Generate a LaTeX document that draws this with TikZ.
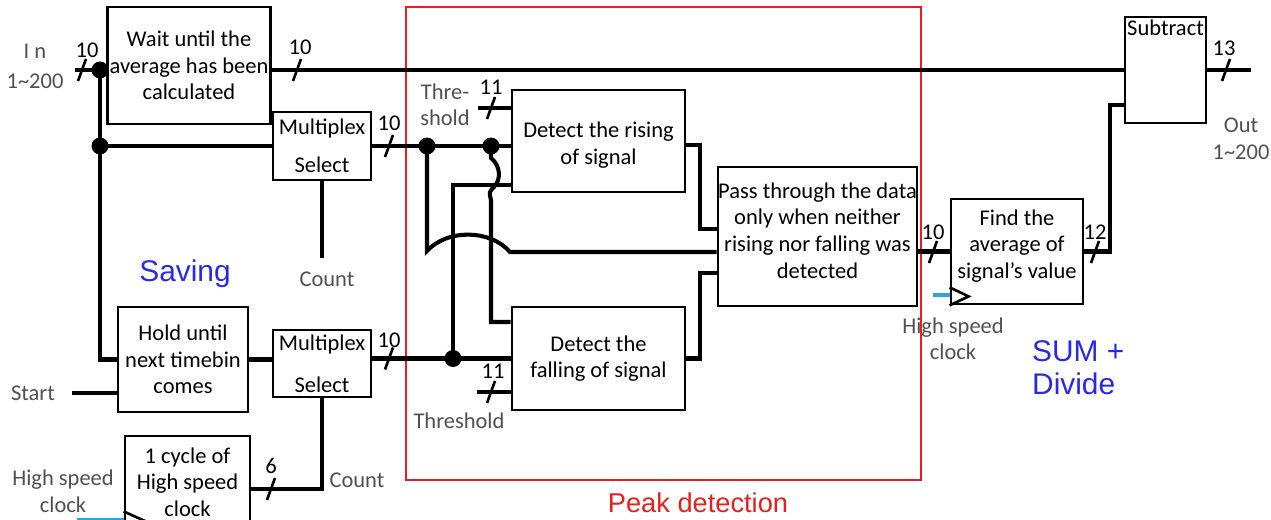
\documentclass[tikz,border=0pt]{standalone}
\usepackage{fontspec}
\setmainfont{Carlito}
\newfontfamily\headfont{Liberation Sans}
\usepackage{tikz}
\usetikzlibrary{calc}
\usepackage{xcolor}
\definecolor{labelgray}{RGB}{80,80,80}
\definecolor{tagblue}{RGB}{40,40,235}
\definecolor{peakred}{RGB}{235,30,30}
\definecolor{clockcyan}{RGB}{30,170,230}
\newcommand{\boxfont}{\fontsize{12.8}{15.1}\selectfont}

\begin{document}
\begin{tikzpicture}[x=0.02cm,y=-0.02cm,
  blk/.style={draw,line width=1.6pt,align=center,inner sep=1pt,font=\boxfont},
  blktext/.style={align=center,inner sep=1pt,font=\boxfont},
  lbl/.style={text=labelgray,align=center,font=\boxfont},
  buslbl/.style={font=\boxfont},
  wire/.style={line width=2.3pt},
  busslash/.style={line width=1.5pt},
  clkwire/.style={line width=2pt,draw=clockcyan},
  tag/.style={font=\headfont\fontsize{17}{20}\selectfont},
]
\useasboundingbox (0,0) rectangle (1271,520);
\clip (0,0) rectangle (1271,520);

% Blocks
\node[blk,minimum width=3.24cm,minimum height=2.34cm] (wait) at (189,65.5)
  {Wait until the\\average has been\\calculated};
\node[blk,minimum width=1.96cm,minimum height=1.36cm] (muxa) at (322,146)
  {Multiplex\\[6.5pt]Select};
\node[blk,minimum width=1.96cm,minimum height=1.34cm] (muxb) at (322,363.5)
  {Multiplex\\[9pt]Select};
\node[blk,minimum width=2.6cm,minimum height=2.1cm] (hold) at (183,359.5)
  {Hold until\\next timebin\\comes};
\node[blk,minimum width=2.5cm,minimum height=1.84cm] (cyc) at (187.5,482)
  {1 cycle of\\High speed\\clock};
\node[blk,minimum width=3.46cm,minimum height=2.04cm] (rise) at (598.5,141) {};
\node[blktext] (riset) at (598.5,145) {Detect the rising\\of signal};
\node[blk,minimum width=3.46cm,minimum height=2.06cm] (fall) at (598.5,358.5)
  {Detect the\\falling of signal};
\node[blk,minimum width=3.98cm,minimum height=2.78cm] (pass) at (817.5,236.5) {};
\node[blktext] (passt) at (817.5,230.5)
  {Pass through the data\\only when neither\\rising nor falling was\\detected};
\node[blk,minimum width=2.64cm,minimum height=2.1cm] (avg) at (1017,251.5) {};
\node[blktext] (avgt) at (1017,246) {Find the\\average of\\signal’s value};
\node[blk,minimum width=1.62cm,minimum height=2.12cm] (sub) at (1165.5,70) {};
\node[font=\boxfont,anchor=north,inner sep=2pt] (subt) at (sub.north) {Subtract};

% Peak detection frame
\draw[peakred,line width=0.8pt] (406,7) rectangle (921,480);

% Wire points
\coordinate (inL) at (75,70);
\coordinate (j1) at (100,70);
\coordinate (j2) at (100,146);
\coordinate (j3) at (427,146);
\coordinate (j4) at (491,146);
\coordinate (j5) at (453,358.5);
\coordinate (cntA) at (322,258);
\coordinate (thA) at (478,108);
\coordinate (thB) at (477,392);
\coordinate (st) at (72,393);
\coordinate (hopA) at (427,251);
\coordinate (hopB) at (510,252);
\coordinate (wigA) at (491,158);
\coordinate (wigB) at (491,200);
\coordinate (fallIn) at (491,322);
\coordinate (riseIn) at (453,185);
\coordinate (riseOut) at (700,229);
\coordinate (fallOut) at (700,273);
\coordinate (avgOut) at (1110,105);
\coordinate (outR) at (1251,70);
\coordinate (cycOut) at (250,489);
\coordinate (clkA) at (933,295);
\coordinate (clkB) at (77,520);

% Wires
\draw[wire] (inL) -- (wait.west |- inL);
\draw[wire] (wait.east |- inL) -- (sub.west |- inL);
\draw[wire] (j1) |- (hold.west);
\draw[wire] (j2) -- (muxa.west);
\draw[wire] (muxa.south) -- (cntA);
\draw[wire] (muxa.east) -- (rise.west |- muxa.east);
\draw[wire] (thA) -- (rise.west |- thA);
\draw[wire] (hold.east) -- (muxb.west |- hold.east);
\draw[wire] (st) -- (hold.west |- st);
\draw[wire] (muxb.east |- fall.west) -- (fall.west);
\draw[wire] (thB) -- (fall.west |- thB);
\draw[wire] (cycOut) -| (muxb.south);
\draw[wire] (j3) -- (hopA) .. controls (447,229) and (490,229) .. (hopB)
  -- (pass.west |- hopB);
\draw[wire] (j4) -- (wigA) .. controls (501,166) and (501,180) .. (494,187)
  .. controls (489,192) .. (wigB) -- (fallIn) -- (fall.west |- fallIn);
\draw[wire] (j5) |- (rise.west |- riseIn);
\draw[wire] ($(rise.east)+(0,4)$) -| (riseOut) -- (pass.west |- riseOut);
\draw[wire] (fall.east) -| (fallOut) -- (pass.west |- fallOut);
\draw[wire] (pass.east |- avg.west) -- (avg.west);
\draw[wire] (avg.east) -| (avgOut) -- (sub.west |- avgOut);
\draw[wire] (sub.east) -- (outR);

% Junction dots
\foreach \j in {j1,j2,j3,j4,j5}
  \fill (\j) circle (0.17cm);

% Clock inputs
\draw[line width=1.5pt] ($(avg.south west)+(0,-18)$) -- ++(19,9) -- ++(-19,9);
\draw[clkwire] (clkA) -- (avg.west |- clkA);
\draw[line width=1.5pt] ($(cyc.south west)+(0,-18)$) -- ++(20,9) -- ++(-20,9);
\draw[clkwire] (clkB) -- (cyc.west |- clkB);

% Bus width marks
\foreach \sx/\sy in {82/70, 297/70, 389/146, 491/108, 389/358.5,
                     491/392, 271/489, 933/252, 1095/252, 1226/70}
  \draw[busslash] (\sx-4,\sy+11) -- (\sx+4,\sy-11);
\node[buslbl] (bw1) at (87,50) {10};
\node[buslbl] (bw2) at (300,47) {10};
\node[buslbl] (bw3) at (389,123) {10};
\node[buslbl] (bw4) at (491,87) {11};
\node[buslbl] (bw5) at (389,340) {10};
\node[buslbl] (bw6) at (493,371) {11};
\node[buslbl] (bw7) at (271,466) {6};
\node[buslbl] (bw8) at (933,232) {10};
\node[buslbl] (bw9) at (1095,232) {12};
\node[buslbl] (bw10) at (1224,48) {13};

% Signal labels
\node[lbl] (inlbl) at (35,66) {I n\\[2pt]1\textasciitilde200};
\node[lbl] (cnt1) at (327,279) {Count};
\node[lbl] (cnt2) at (357,480) {Count};
\node[lbl] (startlbl) at (33,393) {Start};
\node[lbl] (thrA) at (445,105) {Thre-\\shold};
\node[lbl] (thrB) at (459,421) {Threshold};
\node[lbl] (clkl1) at (63,491.5) {High speed\\clock};
\node[lbl] (clkl2) at (953,339) {High speed\\clock};
\node[lbl] (outlbl) at (1241,139) {Out\\1\textasciitilde200};

% Section tags
\node[tag,text=tagblue] (saving) at (185,274) {Saving};
\node[tag,text=tagblue,align=left,anchor=west] (sumdiv) at (1026,368)
  {SUM +\\[-1pt]Divide};
\node[tag,text=peakred,font=\headfont\fontsize{15.5}{18}\selectfont] (peak)
  at (698,503) {Peak detection};
\end{tikzpicture}
\end{document}
